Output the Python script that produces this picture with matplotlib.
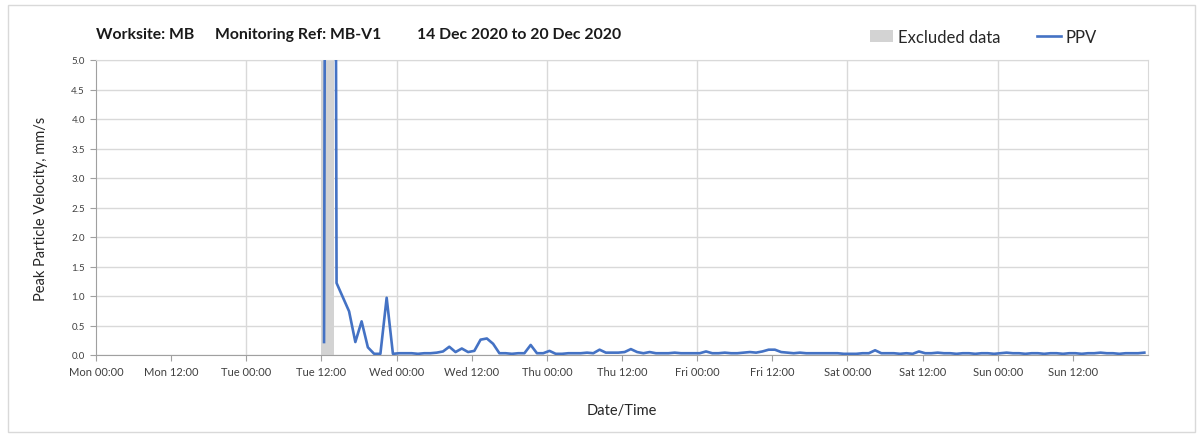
import matplotlib
matplotlib.use("Agg")
import matplotlib.pyplot as plt
import numpy as np
import pandas as pd

plt.rcParams['font.family'] = ['Lato', 'DejaVu Sans']

# hourly PPV readings (mm/s), first reading Tue 12:25
start = pd.Timestamp('2020-12-15 12:25')
tue = [0.22, 45.0, 1.22, 0.98, 0.74, 0.22, 0.57, 0.13, 0.02, 0.02, 0.97, 0.02]
wed = [0.03, 0.03, 0.03, 0.02, 0.03, 0.03, 0.04, 0.06, 0.14, 0.05, 0.11, 0.05,
       0.07, 0.26, 0.28, 0.19, 0.03, 0.03, 0.02, 0.03, 0.03, 0.17, 0.03, 0.03]
thu = [0.07, 0.02, 0.02, 0.03, 0.03, 0.03, 0.04, 0.03, 0.09, 0.04, 0.04, 0.04,
       0.05, 0.10, 0.05, 0.03, 0.05, 0.03, 0.03, 0.03, 0.04, 0.03, 0.03, 0.03]
fri = [0.03, 0.06, 0.03, 0.03, 0.04, 0.03, 0.03, 0.04, 0.05, 0.04, 0.06, 0.09,
       0.09, 0.05, 0.04, 0.03, 0.04, 0.03, 0.03, 0.03, 0.03, 0.03, 0.03, 0.02]
sat = [0.02, 0.02, 0.03, 0.03, 0.08, 0.03, 0.03, 0.03, 0.02, 0.03, 0.02, 0.06,
       0.03, 0.03, 0.04, 0.03, 0.03, 0.02, 0.03, 0.03, 0.02, 0.03, 0.03, 0.02]
sun = [0.03, 0.04, 0.03, 0.03, 0.02, 0.03, 0.03, 0.02, 0.03, 0.03, 0.02, 0.03,
       0.03, 0.02, 0.03, 0.03, 0.04, 0.03, 0.03, 0.02, 0.03, 0.03, 0.03, 0.04]
ppv = tue + wed + thu + fri + sat + sun

excluded = (pd.Timestamp('2020-12-15 12:00'), pd.Timestamp('2020-12-15 14:00'))
week0 = pd.Timestamp('2020-12-14 00:00')

tick_labels = ['Mon 00:00', 'Mon 12:00', 'Tue 00:00', 'Tue 12:00', 'Wed 00:00',
               'Wed 12:00', 'Thu 00:00', 'Thu 12:00', 'Fri 00:00', 'Fri 12:00',
               'Sat 00:00', 'Sat 12:00', 'Sun 00:00', 'Sun 12:00']
title_parts = ['Worksite: MB', 'Monitoring Ref: MB-V1', '14 Dec 2020 to 20 Dec 2020']

times = pd.date_range(start, periods=len(ppv), freq='h')
hrs = (times - week0) / pd.Timedelta(hours=1)

fig = plt.figure(figsize=(12.03, 4.39), dpi=100)
ax = fig.add_axes([96/1203, 1-356/439, (1148-96)/1203, (356-61)/439])

grid_c = '#d9d9d9'
ax.axvspan((excluded[0]-week0)/pd.Timedelta(hours=1),
           (excluded[1]-week0)/pd.Timedelta(hours=1),
           color='#d3d3d3', lw=0, zorder=1, label='Excluded data')
ax.plot(hrs, ppv, color='#4472C4', lw=1.9, zorder=3, label='PPV')

ax.set_xlim(0, 168)
ax.set_ylim(0, 5)
ax.set_xticks(np.arange(0, 168, 12))
ax.set_xticklabels(tick_labels, fontsize=8, color='#404040')
ax.set_yticks(np.arange(0, 5.01, 0.5))
ax.set_yticklabels(['%.1f' % v for v in np.arange(0, 5.01, 0.5)], fontsize=7, color='#404040')
ax.tick_params(axis='x', length=4, color='#a0a0a0', pad=4)
ax.tick_params(axis='y', length=4, color='#a0a0a0', pad=4)

ax.set_axisbelow(True)
ax.grid(axis='y', color=grid_c, lw=1)
for d in range(24, 168, 24):
    ax.axvline(d, color=grid_c, lw=1, zorder=0)
for s in ['left', 'bottom']:
    ax.spines[s].set_color('#a0a0a0')
for s in ['top', 'right']:
    ax.spines[s].set_color(grid_c)

ax.set_ylabel('Peak Particle Velocity, mm/s', fontsize=10.5, color='#262626', labelpad=17)
ax.set_xlabel('Date/Time', fontsize=10.5, color='#262626', labelpad=19)

for xp, txt in zip([96, 215, 417], title_parts):
    fig.text(xp/1203, 1-35/439, txt, fontsize=11.3, fontweight='bold',
             va='center', ha='left', color='#1a1a1a')

leg = fig.legend(loc='center right', bbox_to_anchor=(1112/1203, 1-38/439), ncol=2,
                 frameon=False, fontsize=12, handlelength=1.4, columnspacing=2.2,
                 handletextpad=0.3, handleheight=0.7)
for t in leg.get_texts():
    t.set_color('#262626')

border = plt.Rectangle((8/1203, 6/439), 1187/1203, 427/439, transform=fig.transFigure,
                       fill=False, ec='#d9d9d9', lw=1)
fig.patches.append(border)

fig.savefig('out.png', dpi=100)
